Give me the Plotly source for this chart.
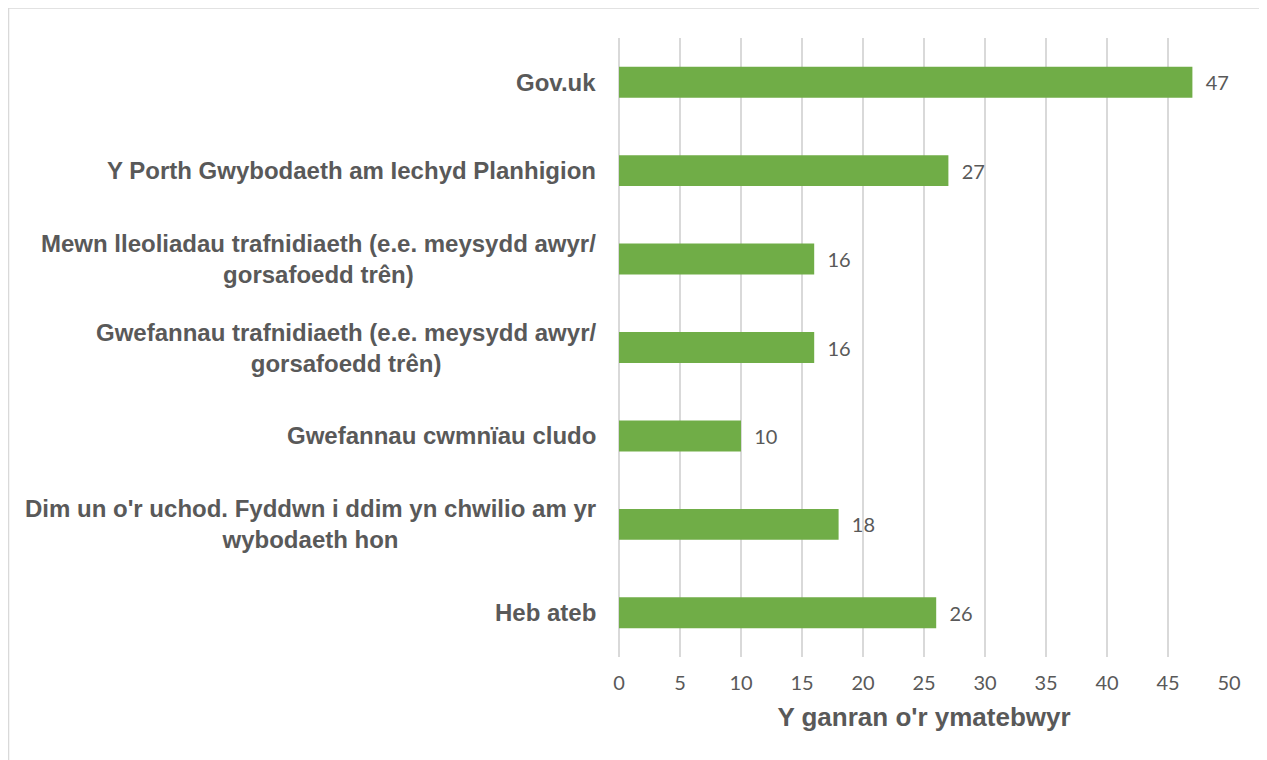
import plotly.graph_objects as go

categories = [
    "Gov.uk",
    "Y Porth Gwybodaeth am Iechyd Planhigion",
    "Mewn lleoliadau trafnidiaeth (e.e. meysydd awyr/<br>gorsafoedd trên)",
    "Gwefannau trafnidiaeth (e.e. meysydd awyr/<br>gorsafoedd trên)",
    "Gwefannau cwmnïau cludo",
    "Dim un o'r uchod. Fyddwn i ddim yn chwilio am yr<br>wybodaeth hon",
    "Heb ateb",
]
values = [47, 27, 16, 16, 10, 18, 26]
x_ticks = list(range(0, 51, 5))
x_title = "Y ganran o'r ymatebwyr"

GREEN = "#70AD47"
TXT = "#595959"
GRID = "#D9D9D9"

fig = go.Figure(
    go.Bar(
        x=values,
        y=categories,
        orientation="h",
        marker=dict(color=GREEN, line=dict(width=0)),
        width=0.35,
        text=["\u00a0\u00a0" + str(v) for v in values],
        textposition="outside",
        textfont=dict(family="Lato, Arial, sans-serif", size=20, color=TXT),
        cliponaxis=False,
        hoverinfo="skip",
    )
)

annotations = []
for c in categories:
    annotations.append(dict(
        x=-0.034, xref="paper", y=c, yref="y",
        text=c, showarrow=False, xanchor="right", yanchor="middle",
        align="center",
        font=dict(family="Liberation Sans, Arial, sans-serif", size=24, color=TXT, weight="bold"),
    ))

# page body has an 8px margin; compensate so the plot area lands where the reference has it
fig.update_layout(
    width=1259, height=752,
    margin=dict(l=611, r=38, t=30, b=103),
    paper_bgcolor="white", plot_bgcolor="white",
    showlegend=False,
    annotations=annotations,
    xaxis=dict(
        range=[0, 50], tickvals=x_ticks, ticktext=[str(t) for t in x_ticks],
        showgrid=True, gridcolor=GRID, gridwidth=1.5,
        zeroline=True, zerolinecolor=GRID, zerolinewidth=1.5,
        showline=False, ticks="",
        tickfont=dict(family="Lato, Arial, sans-serif", size=20, color=TXT),
        ticklabelstandoff=12,
        title=dict(text=x_title, standoff=14,
                   font=dict(family="Liberation Sans, Arial, sans-serif", size=26, color=TXT, weight="bold")),
    ),
    yaxis=dict(
        categoryorder="array", categoryarray=categories,
        autorange="reversed", showticklabels=False, showgrid=False,
        zeroline=False, showline=False, ticks="",
    ),
    shapes=[dict(
        type="rect", xref="paper", yref="paper",
        x0=-1.0008, x1=1.054, y0=-0.1686, y1=1.0483,
        line=dict(color=GRID, width=1.5), fillcolor="rgba(0,0,0,0)", layer="below",
    )],
)

fig.write_html("out.html")
